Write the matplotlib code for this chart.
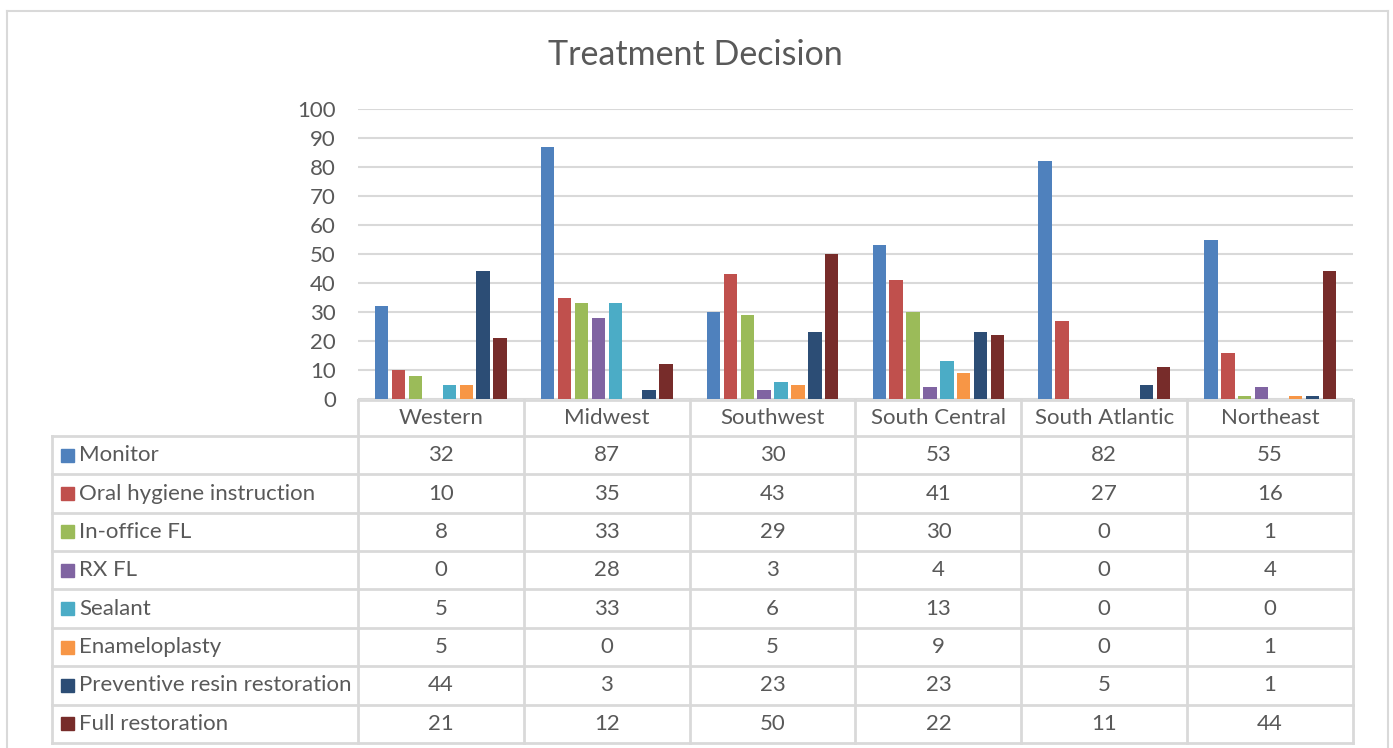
import matplotlib.pyplot as plt
from matplotlib.lines import Line2D
from matplotlib.patches import Rectangle

# regions and treatment counts
regions = ['Western', 'Midwest', 'Southwest', 'South Central', 'South Atlantic', 'Northeast']
series_names = ['Monitor', 'Oral hygiene instruction', 'In-office FL', 'RX FL', 'Sealant',
                'Enameloplasty', 'Preventive resin restoration', 'Full restoration']
monitor = [32, 87, 30, 53, 82, 55]
oral_hygiene = [10, 35, 43, 41, 27, 16]
in_office_fl = [8, 33, 29, 30, 0, 1]
rx_fl = [0, 28, 3, 4, 0, 4]
sealant = [5, 33, 6, 13, 0, 0]
enameloplasty = [5, 0, 5, 9, 0, 1]
preventive_resin = [44, 3, 23, 23, 5, 1]
full_restoration = [21, 12, 50, 22, 11, 44]
yticks = [0, 10, 20, 30, 40, 50, 60, 70, 80, 90, 100]

series = [monitor, oral_hygiene, in_office_fl, rx_fl, sealant, enameloplasty,
          preventive_resin, full_restoration]
colors = ['#4F81BD', '#C0504D', '#9BBB59', '#8064A2', '#4BACC6', '#F79646', '#2C4D75', '#772C2A']

plt.rcParams['font.family'] = ['Lato', 'DejaVu Sans']
text_color = '#595959'
line_color = '#D9D9D9'

W, H = 1393, 748
fig = plt.figure(figsize=(W / 100, H / 100), dpi=100)

PL, PR = 358, 1353   # plot / table category columns, px
col_w = (PR - PL) / 6


def px_box(x0, y0, x1, y1):
    # pixel box (top-left origin) to figure fraction rect
    return [x0 / W, 1 - y1 / H, (x1 - x0) / W, (y1 - y0) / H]


# outer chart border
fig.add_artist(Line2D([7 / W, 7 / W], [0, 1 - 11 / H], color=line_color, lw=1.5))
fig.add_artist(Line2D([1388 / W, 1388 / W], [0, 1 - 11 / H], color=line_color, lw=1.5))
fig.add_artist(Line2D([7 / W, 1388 / W], [1 - 11 / H, 1 - 11 / H], color=line_color, lw=1.5))

fig.text(695 / W, 1 - 55 / H, 'Treatment Decision', ha='center', va='center',
         fontsize=24.5, color=text_color)

# bar chart
ax = fig.add_axes(px_box(PL, 109, PR, 399))
slot = 16.9 / col_w
bw = 13.4 / col_w
for j, (vals, c) in enumerate(zip(series, colors)):
    xs = [i + (j - 3.5) * slot for i in range(len(regions))]
    ax.bar(xs, vals, width=bw, color=c, zorder=3)

ax.set_xlim(-0.5, len(regions) - 0.5)
ax.set_ylim(0, 100)
ax.set_yticks(yticks)
ax.set_yticklabels([str(t) for t in yticks], fontsize=16, color=text_color)
ax.tick_params(axis='y', length=0, pad=16)
ax.set_xticks([])
for s in ax.spines.values():
    s.set_visible(False)
ax.grid(axis='y', color=line_color, lw=1.5, zorder=0)

# data table under the chart
tab = fig.add_axes(px_box(52, 400, PR, 743))
label_w = (PL - 52) / col_w
head_h = 36 / 38.4
nrows = len(series_names)
tab.set_xlim(-0.5 - label_w, len(regions) - 0.5)
tab.set_ylim(head_h + nrows, 0)
tab.axis('off')

lk = dict(color=line_color, lw=2, clip_on=False)
# horizontal lines
tab.plot([-0.5, len(regions) - 0.5], [0, 0], **lk)
for r in range(nrows + 1):
    tab.plot([-0.5 - label_w, len(regions) - 0.5], [head_h + r, head_h + r], **lk)
# vertical lines
tab.plot([-0.5 - label_w, -0.5 - label_w], [head_h, head_h + nrows], **lk)
for i in range(len(regions) + 1):
    tab.plot([i - 0.5, i - 0.5], [0, head_h + nrows], **lk)

for i, reg in enumerate(regions):
    tab.text(i, head_h / 2, reg, ha='center', va='center', fontsize=16, color=text_color)

key_w = 13 / col_w
key_h = 13 / 38.4
for r, (name, vals, c) in enumerate(zip(series_names, series, colors)):
    yc = head_h + r + 0.5
    x0 = -0.5 - label_w + 9 / col_w
    tab.add_patch(Rectangle((x0, yc - key_h / 2), key_w, key_h, color=c, clip_on=False))
    tab.text(x0 + key_w + 5 / col_w, yc, name, ha='left', va='center', fontsize=16,
             color=text_color)
    for i, v in enumerate(vals):
        tab.text(i, yc, str(v), ha='center', va='center', fontsize=16, color=text_color)

fig.savefig('out.png', dpi=100)
